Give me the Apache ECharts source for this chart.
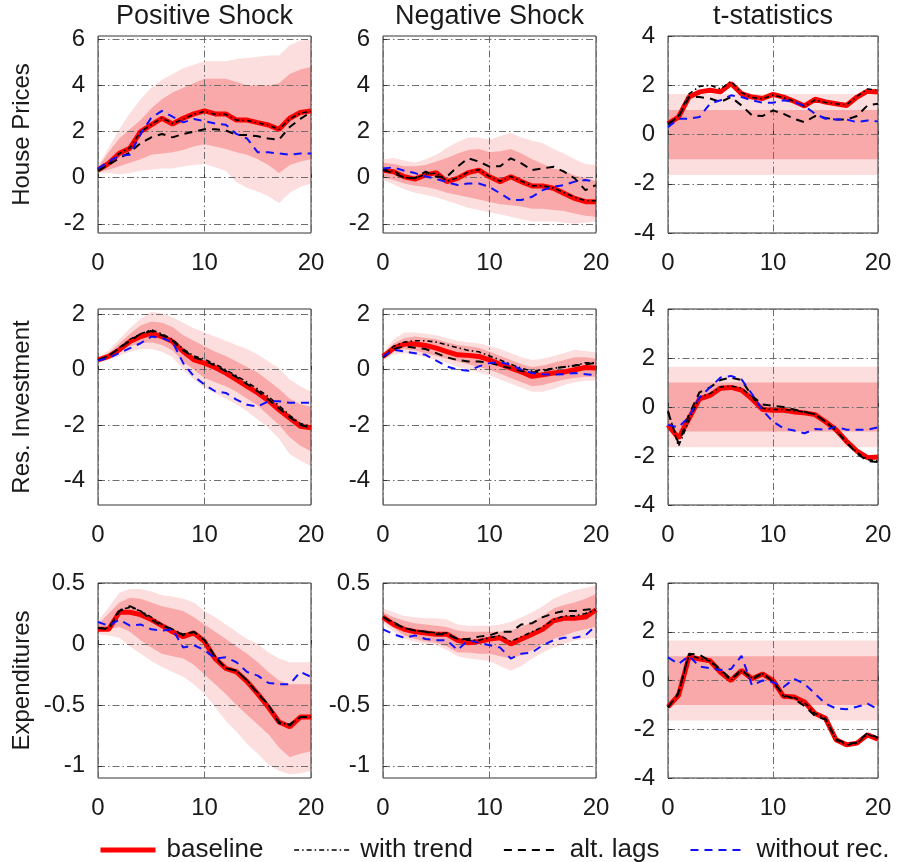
<!DOCTYPE html>
<html>
<head>
<meta charset="utf-8">
<script src="https://cdn.jsdelivr.net/npm/echarts@6/dist/echarts.min.js"></script>
<style>
  html, body { margin: 0; padding: 0; background: #ffffff; }
  #chart { width: 899px; height: 862px; }
</style>
</head>
<body>
<div id="chart"></div>
<script>
// Horizon (quarters after the shock)
const steps = [0,1,2,3,4,5,6,7,8,9,10,11,12,13,14,15,16,17,18,19,20];
const stepTicks = [0, 10, 20];

// Column and row labels
const columnTitles = ['Positive Shock', 'Negative Shock', 't-statistics'];
const rowNames = ['House Prices', 'Res. Investment', 'Expenditures'];
const seriesNames = ['baseline', 'with trend', 'alt. lags', 'without rec.'];

// y tick values per row / t-statistics column
const hpTicks = [-2, 0, 2, 4, 6];
const riTicks = [-4, -2, 0, 2];
const exTicks = [-1, -0.5, 0, 0.5];
const tTicks = [-4, -2, 0, 2, 4];
const hpRange = [-2.4, 6.15];
const riRange = [-4.9, 2.2];
const exRange = [-1.1, 0.5];
const tRange = [-4, 4];

// t-statistic significance bands (68% and 90%)
const tBand68 = [-1, 1];
const tBand90 = [-1.645, 1.645];

// ---- House prices, positive shock
const hpPosBase  = [0.33, 0.62, 1.06, 1.28, 2.0, 2.29, 2.58, 2.33, 2.58, 2.77, 2.9, 2.77, 2.77, 2.5, 2.5, 2.39, 2.29, 2.1, 2.58, 2.83, 2.9];
const hpPosTrend = [0.3, 0.6, 1.05, 1.3, 2.0, 2.3, 2.6, 2.35, 2.55, 2.75, 2.88, 2.75, 2.75, 2.5, 2.48, 2.38, 2.28, 2.1, 2.55, 2.8, 2.88];
const hpPosLags  = [0.3, 0.55, 0.85, 1.1, 1.5, 1.75, 1.9, 1.75, 1.9, 2.0, 2.1, 2.1, 2.05, 1.85, 1.85, 1.8, 1.7, 1.65, 2.2, 2.55, 2.85];
const hpPosNoRec = [0.4, 0.7, 0.95, 1.0, 1.9, 2.6, 2.9, 2.65, 2.4, 2.55, 2.45, 2.35, 2.3, 1.9, 1.7, 1.1, 1.1, 1.05, 1.0, 1.05, 1.05];
const hpPosLo90  = [0.2, 0.2, 0.15, 0.2, 0.3, 0.35, 0.4, 0.4, 0.5, 0.55, 0.6, 0.45, 0.3, -0.2, -0.45, -0.6, -0.8, -1.1, -0.65, -0.4, -0.25];
const hpPosLo68  = [0.25, 0.35, 0.5, 0.65, 0.8, 1.0, 1.05, 1.1, 1.2, 1.35, 1.45, 1.35, 1.25, 1.1, 1.0, 0.8, 0.55, 0.2, 0.55, 0.7, 0.8];
const hpPosHi68  = [0.45, 1.1, 1.7, 2.1, 2.5, 3.0, 3.4, 3.7, 3.9, 4.1, 4.3, 4.3, 4.3, 4.15, 4.0, 4.0, 4.0, 4.1, 4.5, 4.7, 4.8];
const hpPosHi90  = [0.5, 1.3, 2.1, 2.8, 3.4, 3.9, 4.25, 4.5, 4.75, 4.9, 5.05, 5.05, 5.05, 5.15, 5.2, 5.25, 5.3, 5.3, 5.75, 5.95, 6.0];

// ---- House prices, negative shock
const hpNegBase  = [0.33, 0.26, 0.04, -0.06, 0.12, 0.22, -0.17, -0.03, 0.22, 0.33, 0.04, -0.17, 0.04, -0.17, -0.36, -0.36, -0.46, -0.68, -0.9, -1.04, -1.04];
const hpNegTrend = [0.35, 0.3, 0.0, -0.02, 0.15, 0.2, -0.15, 0.0, 0.25, 0.35, 0.05, -0.15, 0.05, -0.15, -0.35, -0.35, -0.45, -0.65, -0.85, -1.0, -1.0];
const hpNegLags  = [0.33, 0.2, 0.0, -0.02, 0.26, 0.04, 0.04, 0.48, 0.84, 0.7, 0.48, 0.5, 0.84, 0.62, 0.33, 0.4, 0.48, 0.26, -0.03, -0.54, -0.32];
const hpNegNoRec = [0.4, 0.45, 0.3, 0.2, 0.05, -0.05, -0.2, -0.32, -0.25, -0.25, -0.4, -0.68, -0.97, -0.97, -0.83, -0.54, -0.39, -0.32, -0.17, -0.1, -0.17];
const hpNegLo90  = [-0.1, -0.3, -0.5, -0.65, -0.75, -0.85, -1.0, -1.15, -1.3, -1.4, -1.5, -1.6, -1.7, -1.8, -1.9, -1.9, -1.9, -1.95, -2.0, -1.95, -1.9];
const hpNegLo68  = [0.0, -0.1, -0.25, -0.35, -0.4, -0.5, -0.65, -0.75, -0.85, -0.95, -1.05, -1.15, -1.2, -1.25, -1.35, -1.35, -1.4, -1.45, -1.55, -1.65, -1.7];
const hpNegHi68  = [0.65, 0.6, 0.5, 0.5, 0.55, 0.7, 0.85, 1.05, 1.2, 1.25, 1.1, 1.15, 1.25, 1.05, 0.8, 0.6, 0.4, 0.3, 0.1, 0.0, -0.15];
const hpNegHi90  = [0.8, 0.85, 0.75, 0.65, 0.8, 1.0, 1.3, 1.55, 1.75, 1.75, 1.65, 1.8, 1.95, 1.75, 1.6, 1.5, 1.25, 1.05, 0.8, 0.6, 0.55];

// ---- House prices, t-statistics
const hpTBase  = [0.44, 0.71, 1.52, 1.73, 1.8, 1.73, 2.07, 1.66, 1.52, 1.46, 1.63, 1.52, 1.35, 1.16, 1.43, 1.32, 1.25, 1.18, 1.52, 1.76, 1.73];
const hpTTrend = [0.4, 0.75, 1.65, 1.95, 2.0, 1.85, 2.15, 1.7, 1.5, 1.45, 1.6, 1.5, 1.35, 1.15, 1.4, 1.3, 1.25, 1.2, 1.55, 1.85, 1.8];
const hpTLags  = [0.44, 0.71, 1.52, 1.52, 1.46, 1.32, 1.52, 1.18, 0.78, 0.75, 0.98, 0.84, 0.64, 0.5, 0.75, 0.67, 0.61, 0.61, 0.75, 1.18, 1.25];
const hpTNoRec = [0.3, 0.64, 0.64, 0.71, 1.25, 1.39, 1.59, 1.52, 1.39, 1.29, 1.29, 1.39, 1.32, 1.16, 0.84, 0.64, 0.61, 0.61, 0.5, 0.57, 0.53];

// ---- Residential investment, positive shock
const riPosBase  = [0.36, 0.48, 0.72, 1.02, 1.2, 1.33, 1.2, 1.02, 0.66, 0.36, 0.24, 0.08, -0.12, -0.36, -0.6, -0.84, -1.12, -1.45, -1.75, -2.05, -2.1];
const riPosTrend = [0.35, 0.5, 0.8, 1.1, 1.3, 1.45, 1.3, 1.1, 0.75, 0.5, 0.38, 0.2, 0.0, -0.22, -0.45, -0.7, -0.98, -1.3, -1.65, -1.95, -2.05];
const riPosLags  = [0.35, 0.5, 0.78, 1.05, 1.3, 1.4, 1.25, 1.05, 0.7, 0.45, 0.33, 0.15, -0.05, -0.27, -0.52, -0.78, -1.08, -1.4, -1.72, -2.0, -2.1];
const riPosNoRec = [0.33, 0.42, 0.6, 0.78, 0.96, 1.2, 1.15, 1.0, 0.24, -0.24, -0.54, -0.78, -0.84, -1.08, -1.27, -1.33, -1.14, -1.14, -1.2, -1.2, -1.2];
const riPosLo90  = [0.25, 0.35, 0.5, 0.65, 0.75, 0.75, 0.65, 0.45, 0.0, -0.35, -0.65, -0.85, -1.05, -1.25, -1.5, -1.8, -2.1, -2.5, -3.05, -3.3, -3.5];
const riPosLo68  = [0.3, 0.45, 0.65, 0.85, 0.95, 1.0, 0.9, 0.7, 0.3, 0.0, -0.3, -0.45, -0.6, -0.8, -1.05, -1.3, -1.65, -2.0, -2.45, -2.75, -2.95];
const riPosHi68  = [0.4, 0.6, 0.95, 1.3, 1.6, 1.75, 1.7, 1.55, 1.25, 1.05, 0.85, 0.65, 0.5, 0.3, 0.1, -0.1, -0.4, -0.7, -1.05, -1.25, -1.35];
const riPosHi90  = [0.42, 0.7, 1.1, 1.5, 1.85, 2.1, 2.05, 1.9, 1.7, 1.5, 1.35, 1.2, 1.05, 0.9, 0.75, 0.55, 0.3, 0.05, -0.35, -0.6, -0.8];

// ---- Residential investment, negative shock
const riNegBase  = [0.48, 0.78, 0.93, 0.93, 0.88, 0.78, 0.66, 0.54, 0.52, 0.48, 0.36, 0.2, 0.06, -0.08, -0.24, -0.18, -0.12, -0.08, 0.0, 0.08, 0.06];
const riNegTrend = [0.45, 0.85, 1.0, 1.05, 1.05, 1.0, 0.9, 0.8, 0.7, 0.65, 0.5, 0.35, 0.2, 0.05, -0.05, 0.0, 0.05, 0.1, 0.15, 0.25, 0.25];
const riNegLags  = [0.45, 0.75, 0.85, 0.8, 0.75, 0.6, 0.45, 0.35, 0.3, 0.3, 0.25, 0.15, 0.05, -0.05, -0.1, -0.05, 0.05, 0.1, 0.15, 0.2, 0.25];
const riNegNoRec = [0.48, 0.72, 0.66, 0.6, 0.54, 0.33, 0.12, 0.0, -0.04, 0.12, 0.24, 0.28, 0.18, 0.0, -0.12, -0.16, -0.18, -0.16, -0.12, -0.16, -0.2];
const riNegLo90  = [0.35, 0.55, 0.6, 0.55, 0.45, 0.35, 0.25, 0.1, 0.0, -0.1, -0.2, -0.35, -0.5, -0.65, -0.8, -0.8, -0.7, -0.55, -0.45, -0.4, -0.4];
const riNegLo68  = [0.4, 0.65, 0.75, 0.7, 0.6, 0.5, 0.4, 0.3, 0.2, 0.1, 0.0, -0.15, -0.3, -0.45, -0.6, -0.55, -0.45, -0.35, -0.3, -0.25, -0.25];
const riNegHi68  = [0.55, 0.95, 1.15, 1.2, 1.15, 1.1, 1.0, 0.9, 0.85, 0.8, 0.65, 0.5, 0.35, 0.2, 0.1, 0.15, 0.25, 0.35, 0.45, 0.45, 0.4];
const riNegHi90  = [0.6, 1.1, 1.35, 1.35, 1.3, 1.25, 1.15, 1.05, 1.0, 0.95, 0.85, 0.75, 0.6, 0.45, 0.35, 0.4, 0.5, 0.6, 0.72, 0.68, 0.62];

// ---- Residential investment, t-statistics
const riTBase  = [-0.73, -1.27, -0.47, 0.33, 0.47, 0.77, 0.8, 0.69, 0.33, -0.1, -0.13, -0.13, -0.2, -0.24, -0.31, -0.6, -0.93, -1.4, -1.8, -2.07, -2.04];
const riTTrend = [-0.15, -1.6, -0.55, 0.4, 0.55, 0.82, 0.85, 0.78, 0.4, -0.05, -0.1, -0.1, -0.15, -0.2, -0.3, -0.6, -0.95, -1.45, -1.85, -2.15, -2.2];
const riTLags  = [-0.2, -1.5, -0.3, 0.6, 0.8, 1.1, 1.2, 1.1, 0.45, 0.1, 0.05, 0.0, -0.1, -0.2, -0.3, -0.6, -0.95, -1.45, -1.9, -2.2, -2.25];
const riTNoRec = [-0.73, -0.83, -0.4, 0.4, 0.8, 1.2, 1.27, 1.13, 0.53, -0.13, -0.6, -0.87, -0.96, -1.07, -0.9, -0.93, -0.8, -0.93, -0.93, -0.93, -0.83];

// ---- Expenditures, positive shock
const exPosBase  = [0.12, 0.12, 0.26, 0.26, 0.24, 0.2, 0.15, 0.1, 0.06, 0.09, 0.02, -0.12, -0.2, -0.23, -0.31, -0.41, -0.52, -0.64, -0.68, -0.6, -0.6];
const exPosTrend = [0.13, 0.13, 0.28, 0.3, 0.27, 0.22, 0.16, 0.12, 0.08, 0.1, 0.03, -0.1, -0.2, -0.22, -0.3, -0.4, -0.5, -0.64, -0.67, -0.6, -0.6];
const exPosLags  = [0.13, 0.12, 0.27, 0.31, 0.27, 0.2, 0.15, 0.12, 0.07, 0.1, 0.03, -0.11, -0.2, -0.22, -0.3, -0.41, -0.5, -0.65, -0.66, -0.6, -0.6];
const exPosNoRec = [0.18, 0.15, 0.2, 0.15, 0.16, 0.12, 0.11, 0.12, -0.03, -0.01, -0.05, -0.12, -0.11, -0.15, -0.23, -0.26, -0.32, -0.33, -0.33, -0.23, -0.27];
const exPosLo90  = [0.08, 0.07, 0.05, -0.02, -0.08, -0.14, -0.19, -0.23, -0.27, -0.33, -0.41, -0.52, -0.63, -0.72, -0.82, -0.9, -0.99, -1.04, -1.07, -1.06, -1.04];
const exPosLo68  = [0.1, 0.12, 0.14, 0.1, 0.03, -0.03, -0.08, -0.1, -0.12, -0.17, -0.25, -0.33, -0.41, -0.5, -0.58, -0.66, -0.74, -0.85, -0.93, -0.9, -0.88];
const exPosHi68  = [0.16, 0.25, 0.34, 0.38, 0.37, 0.34, 0.31, 0.29, 0.27, 0.22, 0.16, 0.1, 0.04, -0.02, -0.08, -0.15, -0.23, -0.3, -0.33, -0.33, -0.33];
const exPosHi90  = [0.19, 0.3, 0.42, 0.45, 0.45, 0.43, 0.4, 0.39, 0.37, 0.34, 0.27, 0.22, 0.16, 0.1, 0.04, 0.0, -0.07, -0.12, -0.15, -0.15, -0.15];

// ---- Expenditures, negative shock
const exNegBase  = [0.22, 0.16, 0.12, 0.1, 0.09, 0.08, 0.08, 0.03, 0.01, 0.02, 0.04, 0.05, 0.0, 0.04, 0.08, 0.12, 0.19, 0.21, 0.21, 0.22, 0.28];
const exNegTrend = [0.22, 0.18, 0.13, 0.11, 0.1, 0.09, 0.09, 0.04, 0.03, 0.03, 0.05, 0.07, 0.02, 0.06, 0.1, 0.14, 0.2, 0.23, 0.23, 0.25, 0.28];
const exNegLags  = [0.22, 0.17, 0.13, 0.11, 0.1, 0.08, 0.08, 0.04, 0.04, 0.06, 0.07, 0.1, 0.1, 0.16, 0.17, 0.22, 0.25, 0.27, 0.27, 0.28, 0.29];
const exNegNoRec = [0.12, 0.08, 0.05, 0.07, 0.04, 0.03, 0.03, -0.05, 0.03, 0.01, -0.01, -0.03, -0.12, -0.08, -0.07, -0.01, 0.03, 0.05, 0.05, 0.07, 0.15];
const exNegLo90  = [0.17, 0.1, 0.04, 0.02, 0.0, -0.01, -0.05, -0.1, -0.12, -0.13, -0.14, -0.18, -0.22, -0.18, -0.12, -0.07, -0.03, 0.0, 0.03, 0.04, 0.05];
const exNegLo68  = [0.19, 0.13, 0.07, 0.04, 0.02, 0.01, -0.02, -0.07, -0.07, -0.08, -0.08, -0.1, -0.12, -0.09, -0.05, 0.0, 0.04, 0.07, 0.1, 0.12, 0.14];
const exNegHi68  = [0.26, 0.22, 0.19, 0.17, 0.16, 0.15, 0.14, 0.11, 0.1, 0.1, 0.1, 0.1, 0.11, 0.14, 0.18, 0.23, 0.29, 0.32, 0.34, 0.37, 0.41];
const exNegHi90  = [0.29, 0.26, 0.23, 0.22, 0.21, 0.21, 0.2, 0.16, 0.15, 0.15, 0.15, 0.16, 0.18, 0.22, 0.26, 0.31, 0.37, 0.41, 0.44, 0.46, 0.48];

// ---- Expenditures, t-statistics
const exTBase  = [-1.08, -0.61, 0.97, 0.88, 0.81, 0.34, 0.0, 0.41, 0.07, 0.27, 0.0, -0.65, -0.68, -0.88, -1.35, -1.55, -2.43, -2.64, -2.57, -2.23, -2.41];
const exTTrend = [-1.1, -0.55, 1.05, 0.9, 0.8, 0.35, 0.02, 0.4, 0.1, 0.28, 0.0, -0.65, -0.7, -0.9, -1.35, -1.55, -2.45, -2.65, -2.58, -2.2, -2.4];
const exTLags  = [-1.1, -0.5, 1.1, 1.05, 0.8, 0.45, 0.05, 0.45, 0.05, 0.3, -0.05, -0.6, -0.75, -1.05, -1.45, -1.6, -2.4, -2.6, -2.55, -2.15, -2.35];
const exTNoRec = [0.95, 0.68, 1.01, 0.57, 0.51, 0.43, 0.47, 1.01, -0.2, 0.0, -0.07, -0.27, 0.07, -0.14, -0.54, -0.95, -1.15, -1.18, -1.08, -0.95, -1.18];

// Panel definitions (row, column, lines, interval bands, y range, ticks)
const panels = [
  { r: 0, c: 0, lines: [hpPosBase, hpPosTrend, hpPosLags, hpPosNoRec], bands: [hpPosLo90, hpPosLo68, hpPosHi68, hpPosHi90], range: hpRange, ticks: hpTicks },
  { r: 0, c: 1, lines: [hpNegBase, hpNegTrend, hpNegLags, hpNegNoRec], bands: [hpNegLo90, hpNegLo68, hpNegHi68, hpNegHi90], range: hpRange, ticks: hpTicks },
  { r: 0, c: 2, lines: [hpTBase, hpTTrend, hpTLags, hpTNoRec], bands: null, range: tRange, ticks: tTicks },
  { r: 1, c: 0, lines: [riPosBase, riPosTrend, riPosLags, riPosNoRec], bands: [riPosLo90, riPosLo68, riPosHi68, riPosHi90], range: riRange, ticks: riTicks },
  { r: 1, c: 1, lines: [riNegBase, riNegTrend, riNegLags, riNegNoRec], bands: [riNegLo90, riNegLo68, riNegHi68, riNegHi90], range: riRange, ticks: riTicks },
  { r: 1, c: 2, lines: [riTBase, riTTrend, riTLags, riTNoRec], bands: null, range: tRange, ticks: tTicks },
  { r: 2, c: 0, lines: [exPosBase, exPosTrend, exPosLags, exPosNoRec], bands: [exPosLo90, exPosLo68, exPosHi68, exPosHi90], range: exRange, ticks: exTicks },
  { r: 2, c: 1, lines: [exNegBase, exNegTrend, exNegLags, exNegNoRec], bands: [exNegLo90, exNegLo68, exNegHi68, exNegHi90], range: exRange, ticks: exTicks },
  { r: 2, c: 2, lines: [exTBase, exTTrend, exTLags, exTNoRec], bands: null, range: tRange, ticks: tTicks }
];

// ---- Layout and styling
const FONT = '"Liberation Sans", Arial, Helvetica, sans-serif';
const colLeft = [98, 383, 668];
const colWidth = [213, 213, 210];
const rowTop = [36, 309, 583];
const rowHeight = [197, 196, 195];
const LIGHT_BAND = '#fddede';
const DARK_BAND = '#f9a9a9';
const GRID_LINE = { color: '#6e6e6e', width: 1, type: [7, 3, 1.5, 3] };
const lineStyles = [
  { color: '#ff0000', width: 5, type: 'solid' },
  { color: '#000000', width: 1.6, type: [5, 3, 1.5, 3] },
  { color: '#000000', width: 2, type: [8, 6] },
  { color: '#1010ff', width: 2, type: [8, 6] }
];

const pairs = (vals) => steps.map((s, i) => [s, vals[i]]);

// Filled interval between a lower and an upper bound, drawn as one polygon
function bandSeries(k, lo, hi, color) {
  return {
    type: 'custom', name: 'band', xAxisIndex: k, yAxisIndex: k, silent: true, z: 1, clip: true,
    data: steps.map((s, i) => [s, lo[i], hi[i]]),
    encode: { x: 0, y: [1, 2] },
    renderItem: (params, api) => {
      if (params.dataIndexInside !== 0) return null;
      const n = params.dataInsideLength;
      const upper = [], lower = [];
      for (let i = 0; i < n; i++) {
        upper.push(api.coord([api.value(0, i), api.value(2, i)]));
        lower.push(api.coord([api.value(0, i), api.value(1, i)]));
      }
      return {
        type: 'polygon', silent: true,
        shape: { points: upper.concat(lower.reverse()) },
        style: { fill: color, stroke: null }
      };
    }
  };
}

const grids = [], xAxes = [], yAxes = [], series = [];

panels.forEach((p, k) => {
  grids.push({
    left: colLeft[p.c], top: rowTop[p.r], width: colWidth[p.c], height: rowHeight[p.r],
    show: true, backgroundColor: 'transparent', borderColor: '#333333', borderWidth: 1, z: 2
  });
  xAxes.push({
    gridIndex: k, type: 'value', min: 0, max: 20, interval: 10, z: 2,
    axisLine: { show: false },
    axisTick: { show: true, inside: true, length: 4, lineStyle: { color: '#333333' } },
    axisLabel: { fontSize: 24, color: '#1a1a1a', margin: 18, fontFamily: FONT, customValues: stepTicks },
    splitLine: { show: true, lineStyle: GRID_LINE }
  });
  yAxes.push({
    gridIndex: k, type: 'value', min: p.range[0], max: p.range[1], z: 2,
    axisLine: { show: false },
    axisTick: { show: true, inside: true, length: 4, lineStyle: { color: '#333333' }, customValues: p.ticks },
    axisLabel: { fontSize: 24, color: '#1a1a1a', margin: 13, fontFamily: FONT, customValues: p.ticks },
    splitLine: { show: true, lineStyle: GRID_LINE },
    name: p.c === 0 ? rowNames[p.r] : '',
    nameLocation: 'middle', nameRotate: 90, nameGap: 64,
    nameTextStyle: { fontSize: 24, color: '#1a1a1a', fontFamily: FONT }
  });

  if (p.bands) {
    const [lo90, lo68, hi68, hi90] = p.bands;
    series.push(bandSeries(k, lo90, hi90, LIGHT_BAND));
    series.push(bandSeries(k, lo68, hi68, DARK_BAND));
  } else {
    series.push({
      type: 'line', name: 'band', xAxisIndex: k, yAxisIndex: k, data: [], symbol: 'none', silent: true, z: 1,
      markArea: {
        silent: true,
        data: [
          [{ yAxis: tBand90[0], itemStyle: { color: LIGHT_BAND, opacity: 1 } }, { yAxis: tBand90[1] }],
          [{ yAxis: tBand68[0], itemStyle: { color: DARK_BAND, opacity: 1 } }, { yAxis: tBand68[1] }]
        ]
      }
    });
  }

  p.lines.forEach((vals, j) => {
    series.push({
      type: 'line', name: seriesNames[j], xAxisIndex: k, yAxisIndex: k,
      data: pairs(vals), symbol: 'none', showSymbol: false, silent: true, z: 3 + j,
      lineStyle: lineStyles[j], itemStyle: { color: lineStyles[j].color }
    });
  });
});

const titleCentres = colLeft.map((l, i) => l + colWidth[i] / 2);

const option = {
  animation: false,
  backgroundColor: '#ffffff',
  textStyle: { fontFamily: FONT },
  grid: grids,
  xAxis: xAxes,
  yAxis: yAxes,
  series: series,
  legend: {
    data: seriesNames,
    left: 93, top: 832,
    itemWidth: 55, itemHeight: 14, itemGap: 30,
    textStyle: { fontSize: 26, color: '#1a1a1a', fontFamily: FONT, padding: [0, 0, 0, 6] },
    lineStyle: { width: 'inherit' },
    itemStyle: { opacity: 0 },
    selectedMode: false
  },
  graphic: columnTitles.map((t, i) => ({
    type: 'text', x: titleCentres[i], y: 3, silent: true,
    style: { text: t, align: 'center', verticalAlign: 'top', fontSize: 27, fontFamily: FONT, fill: '#1a1a1a' }
  }))
};

const chart = echarts.init(document.getElementById('chart'));
chart.setOption(option);
</script>
</body>
</html>
